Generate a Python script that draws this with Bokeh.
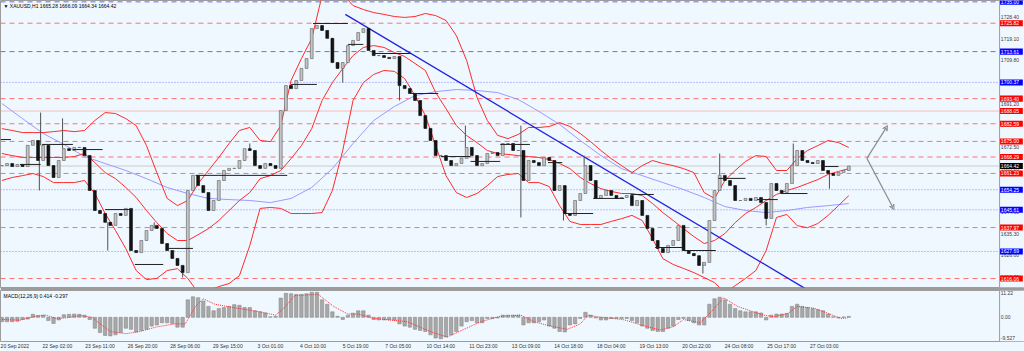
from bokeh.plotting import figure
from bokeh.layouts import column
from bokeh.models import Range1d, FixedTicker, Arrow, VeeHead, Span
from bokeh.core.properties import value
from bokeh.embed import file_html
from bokeh.resources import INLINE

# ---------------- data ----------------
BAR_STEP = 4  # one sample every 4 hourly bars
closes = [
    1664.6, 1665.5, 1664.2, 1665.1, 1664.2, 1673.3, 1675.4, 1666.8, 1673.3, 1664.6,
    1659.5, 1666.8, 1671.9, 1671.1, 1672.4, 1672.4, 1668.9, 1653.9, 1645.3, 1644.0,
    1640.2, 1638.9, 1644.0, 1643.2, 1646.2, 1628.1, 1627.2, 1632.4, 1636.7, 1638.9,
    1637.6, 1631.1, 1628.1, 1624.7, 1621.7, 1618.6, 1653.9, 1660.4, 1656.0, 1653.0,
    1645.3, 1649.6, 1658.2, 1662.5, 1663.4, 1663.4, 1666.8, 1671.9, 1671.1, 1664.6,
    1663.4, 1665.5, 1664.6, 1663.4, 1688.3, 1699.0, 1697.7, 1701.2, 1706.4, 1710.6,
    1723.5, 1724.8, 1722.7, 1719.3, 1708.9, 1706.4, 1708.9, 1716.2, 1718.4, 1721.8,
    1723.5, 1714.1, 1711.9, 1711.9, 1711.1, 1710.6, 1711.5, 1699.0, 1697.7, 1695.6,
    1692.6, 1686.1, 1680.6, 1675.4, 1668.9, 1668.9, 1666.8, 1664.6, 1665.5, 1667.7,
    1672.4, 1668.9, 1664.6, 1665.5, 1669.8, 1670.2, 1668.9, 1674.1, 1674.1, 1671.1,
    1671.1, 1658.2, 1666.8, 1665.9, 1664.6, 1668.1, 1666.8, 1653.9, 1656.0, 1644.0,
    1643.2, 1649.6, 1652.6, 1664.6, 1658.2, 1650.5, 1651.8, 1653.9, 1651.8, 1650.5,
    1650.9, 1651.8, 1647.4, 1649.6, 1643.2, 1637.6, 1632.4, 1629.0, 1627.2, 1630.3,
    1632.4, 1638.9, 1628.1, 1626.8, 1625.9, 1621.7, 1623.0, 1641.0, 1653.9, 1660.4,
    1658.2, 1656.0, 1649.6, 1649.6, 1650.5, 1649.6, 1650.9, 1648.7, 1641.9, 1656.9,
    1653.9, 1653.0, 1656.9, 1664.6, 1671.1, 1666.8, 1665.9, 1665.5, 1666.8, 1662.5,
    1661.2, 1660.4, 1661.6, 1662.5, 1664.42,
]

# wick extremes (bar index, price)
spike_bar = [29, 30, 47, 82, 118, 140, 192, 264, 308, 359, 402, 402, 435, 451, 543, 556, 592, 613, 641]
spike_price = [1653.9, 1687.4, 1684.9, 1628.1, 1640.2, 1616.5, 1674.1, 1700.3, 1692.6, 1681.8,
               1681.8, 1642.3, 1641.0, 1668.9, 1618.2, 1669.8, 1638.9, 1674.1, 1654.7]

# Bollinger bands, sampled every 8 bars
BB_STEP = 8
bb_upper = [
    1680.5, 1679.7, 1678.8, 1678.8, 1678.8, 1679.2, 1679.7, 1679.2, 1679.7, 1684.0,
    1687.4, 1687.0, 1684.8, 1681.8, 1673.2, 1661.6, 1650.5, 1647.4, 1649.6, 1656.9,
    1662.5, 1668.1, 1674.1, 1679.7, 1681.0, 1675.4, 1674.9, 1681.8, 1701.2, 1710.6,
    1719.2, 1737.7, 1740.7, 1738.2, 1733.4, 1731.7, 1730.4, 1729.6, 1728.7, 1728.3,
    1728.7, 1730.0, 1729.1, 1727.0, 1720.5, 1709.8, 1693.9, 1684.0, 1677.6, 1676.2,
    1678.0, 1681.0, 1681.0, 1681.4, 1683.1, 1681.4, 1678.4, 1674.9, 1671.1, 1667.6,
    1664.6, 1661.6, 1664.6, 1666.8, 1665.5, 1664.6, 1663.3, 1661.6, 1653.0, 1650.5,
    1658.2, 1662.5, 1666.4, 1668.9, 1668.5, 1662.5, 1662.5, 1667.6, 1671.1, 1673.2,
    1675.4, 1674.5, 1672.4,
]
bb_middle = [
    1669.8, 1668.9, 1668.1, 1668.1, 1668.1, 1668.1, 1668.1, 1668.5, 1669.8, 1665.9,
    1661.6, 1659.0, 1655.2, 1650.9, 1645.3, 1640.1, 1635.4, 1632.4, 1632.4, 1634.9,
    1637.5, 1641.0, 1645.3, 1649.6, 1653.0, 1659.0, 1660.3, 1662.5, 1667.6, 1673.2,
    1680.5, 1692.6, 1700.3, 1706.3, 1711.9, 1715.4, 1716.2, 1715.4, 1713.2, 1711.5,
    1708.5, 1705.5, 1696.0, 1689.1, 1681.8, 1677.5, 1674.5, 1671.1, 1669.8, 1669.4,
    1668.9, 1668.5, 1668.1, 1667.2, 1665.5, 1663.3, 1659.5, 1656.9, 1654.7, 1653.5,
    1652.6, 1652.6, 1651.7, 1648.3, 1644.4, 1641.0, 1637.5, 1634.1, 1631.1, 1632.4,
    1635.4, 1640.1, 1644.0, 1646.6, 1649.6, 1652.2, 1653.9, 1655.2, 1656.9, 1658.6,
    1660.8, 1662.1, 1663.3,
]
bb_lower = [
    1658.2, 1659.5, 1660.3, 1661.2, 1659.9, 1657.3, 1657.3, 1657.3, 1658.2, 1652.6,
    1644.0, 1636.7, 1628.9, 1619.5, 1615.6, 1616.1, 1619.5, 1620.3, 1616.1, 1610.0,
    1610.9, 1612.6, 1613.9, 1617.3, 1630.2, 1646.2, 1646.6, 1646.2, 1644.0, 1644.0,
    1644.0, 1644.4, 1653.9, 1671.1, 1692.6, 1700.3, 1703.8, 1705.5, 1705.1, 1702.0,
    1694.7, 1686.1, 1673.2, 1660.3, 1653.0, 1650.9, 1652.6, 1656.0, 1659.9, 1660.8,
    1661.2, 1657.3, 1657.3, 1655.6, 1647.4, 1640.6, 1639.3, 1639.3, 1639.3, 1640.6,
    1641.8, 1643.2, 1641.0, 1633.2, 1624.6, 1622.1, 1620.4, 1618.6, 1616.5, 1614.3,
    1610.0, 1613.0, 1616.1, 1619.5, 1628.1, 1642.3, 1643.6, 1638.8, 1637.9, 1639.7,
    1643.2, 1647.4, 1651.7,
]

# slow moving average, sampled every 16 bars
MA_STEP = 16
ma_slow = [
    1691.3, 1684.8, 1678.4, 1673.7, 1668.5, 1665.5, 1662.5, 1659.0, 1655.2, 1652.6,
    1650.5, 1650.0, 1649.6, 1648.7, 1650.5, 1655.2, 1663.3, 1674.1, 1684.0, 1690.0,
    1694.7, 1696.4, 1697.3, 1696.9, 1696.0, 1693.0, 1687.9, 1682.3, 1675.4, 1668.9,
    1663.3, 1660.3, 1657.3, 1654.3, 1650.9, 1647.0, 1645.3, 1644.4, 1645.3, 1646.6,
    1647.4, 1648.3,
]

# trend line (bar, price)
trend_bar = [266, 622]
trend_price = [1729.6, 1611.8]

# short horizontal segments (start bar, end bar, price)
seg_start = [-1, 31, 55, 14, 80, 103, 129, 150, 224, 241, 268, 288, 317, 340, 363, 386, 423, 435, 458, 487, 506, 528, 555, 585, 603, 636]
seg_end = [7, 55, 78, 30, 101, 125, 148, 221, 244, 268, 280, 317, 338, 363, 386, 409, 434, 458, 482, 505, 528, 553, 576, 601, 624, 648]
seg_price = [1675.8, 1673.7, 1671.5, 1665.1, 1645.7, 1622.1, 1629.0, 1660.4, 1699.5, 1725.7, 1716.7, 1712.8, 1695.6,
             1668.5, 1666.4, 1673.7, 1665.9, 1644.0, 1650.5, 1652.2, 1629.4, 1628.1, 1659.1, 1650.0, 1652.6, 1664.2]

# projected scenario arrows (bar, price)
arrow_start = (670, 1667.7)
arrow_up_end = (686, 1681.8)
arrow_down_end = (691, 1645.7)

# horizontal levels
level_price = [1735.00, 1725.82, 1713.61, 1700.37, 1693.40, 1688.05, 1682.59, 1675.00, 1668.29,
               1661.23, 1654.25, 1645.61, 1637.97, 1627.69, 1616.06]
level_kind = ["bdash", "rdash", "bdash", "bdot", "rdash", "rdot", "rdash", "rdash", "rdash",
              "rdash", "bdot", "bdot", "rdash", "bdot", "rdash"]
current_price = 1664.42

price_ticks = [1728.40, 1719.10, 1709.80, 1700.50, 1691.20, 1681.90, 1672.50, 1663.20,
               1653.90, 1644.60, 1635.30, 1626.00, 1616.70]

# MACD histogram (same 4-bar sampling) and signal line
macd_hist = [
    -2, -2, -2, -1.8, -1, -0.8, 1.4, 0.8, 1.0, -1.5,
    -2.8, -1.2, 1.2, 1.4, 1.5, 1.4, 1.0, -1, -5, -7,
    -8.3, -8.5, -8, -7, -5, -5.5, -6.7, -6, -5.5, -4,
    -3.5, -2.5, -2.5, -2.8, -4.5, -4.5, 8, 9.4, 9, 7.5,
    5, 3, 4, 4.5, 5, 5.8, 5.5, 4.5, 4.5, 3,
    2.5, 2, 0.3, 0.5, 8.8, 11, 10.8, 10.5, 10.5, 10.8,
    11.5, 11.5, 8, 6, 2.5, 0.5, -1, 1, 1.9, 3,
    3, 1, -1, -1.2, -1.2, -1.2, -1.3, -3, -4, -4.5,
    -5.5, -6, -6.5, -8, -9.5, -9.8, -9, -8, -6.5, -4,
    -2, -1.5, -2.5, -2.5, -0.5, -0.5, -0.3, 1, 1, 1,
    1, -3.5, -2.5, -2.5, -2, -1.2, -4, -5, -6.5, -6.7,
    -3.5, -3, -0.5, 2.3, 1, -0.3, -1.2, -1.2, -0.5, -0.5,
    -0.5, -0.5, -1.5, -2.5, -4, -5, -6, -6.5, -6.5, -5,
    -4, -1, -0.5, -1.5, -2.5, -3.5, -3.5, 6, 8.5, 9.2,
    8, 6, 4, 3, 2.5, 2.5, 2.5, 2, -1.2, 1,
    1.5, 1.5, 1.8, 5, 6, 5, 4.5, 4, 3.5, 3,
    1.5, 0.3, -0.3, 0.2, 0.414,
]
sig_bar = [0, 14, 26, 34, 42, 49, 61, 70, 76, 84, 96, 107, 119, 134, 142, 150, 156, 165, 179, 200,
           212, 218, 227, 245, 257, 268, 276, 288, 314, 334, 345, 358, 371, 386, 402, 412, 425, 438,
           448, 454, 464, 481, 500, 510, 520, 528, 541, 551, 559, 570, 582, 590, 598, 609, 616, 629,
           640, 650, 655]
sig_val = [-1, -1.3, 0.5, 1, -0.5, -0.3, 0.8, 0, -3, -6.5, -7.5, -6.5, -4.5, -3, -3, 5, 8.5, 6, 4.5, 2.5,
           1, 4, 10, 10.5, 5, 1.5, 1.5, -0.5, -2, -7, -9, -5.5, -2, 0.5, 1, -2, -4, -5.5,
           -3, 1, 0, -1, -4.3, -5.8, -4.3, -1, -2.5, 3.5, 9, 5, 2.5, 1, 0.3, 1.8, 5, 4.2,
           1.8, -0.5, -0.297]

date_labels = ["20 Sep 2022", "22 Sep 02:00", "23 Sep 11:00", "26 Sep 20:00", "28 Sep 06:00",
               "29 Sep 15:00", "3 Oct 01:00", "4 Oct 10:00", "5 Oct 19:00", "7 Oct 05:00",
               "10 Oct 14:00", "11 Oct 23:00", "13 Oct 09:00", "14 Oct 18:00", "18 Oct 04:00",
               "19 Oct 13:00", "20 Oct 22:00", "24 Oct 08:00", "25 Oct 17:00", "27 Oct 03:00"]
BARS_PER_LABEL = 33

macd_ticks = [11.22, 0.0, -9.527]
macd_tick_text = ["11.22", "0.00", "-9.527"]

# ---------------- styling ----------------
BG = "#f0f8ff"
FONT = "Liberation Sans"
FS = "5px"
X0 = -1.08      # left edge of chart
XR = 772.8      # right edge of price area (price scale starts here)
XE = 792.1      # right edge of window
LBL_X = 773.8   # where scale texts start
BOX_R = 790.8   # right end of coloured price boxes
Y0, Y1 = 1612.2, 1735.58
BOX_H = 1.3     # half-height of a price box, in price units
M0, M1 = -11.07, 12.29

bars = [i * BAR_STEP for i in range(len(closes))]
opens = [closes[0]] + closes[:-1]
tops = [max(o, c) for o, c in zip(opens, closes)]
bots = [min(o, c) for o, c in zip(opens, closes)]
fills = ["#c4c4c4" if c >= o else "#141414" for o, c in zip(opens, closes)]
lines = ["#5a5a5a" if c >= o else "#000000" for o, c in zip(opens, closes)]

x_range = Range1d(X0, XE)
p = figure(width=1024, height=290, x_range=x_range, y_range=Range1d(Y0, Y1),
           output_backend="svg", toolbar_location=None, x_axis_location=None,
           y_axis_location=None, min_border_left=0, min_border_top=0,
           min_border_bottom=3, min_border_right=0,
           background_fill_color=BG, border_fill_color="#9c9c9c")
p.grid.visible = False
p.outline_line_color = "#9c9c9c"

styles = {
    "rdash": dict(line_color="#ff7070", line_dash="5 4", line_width=1),
    "bdash": dict(line_color="#6a6aff", line_dash="5 4", line_width=1),
    "bdot": dict(line_color="#7070ff", line_alpha=0.85, line_dash="1 2", line_width=1),
    "rdot": dict(line_color="#ff8080", line_dash="1 1", line_width=1),
}
for lp, lk in zip(level_price, level_kind):
    p.segment(x0=[X0], x1=[XR], y0=[lp], y1=[lp], **styles[lk])
p.segment(x0=[X0], x1=[XR], y0=[current_price], y1=[current_price], line_color="#cccccc", line_width=1)

# indicators
bb_bars = [i * BB_STEP for i in range(len(bb_upper))]
ma_bars = [i * MA_STEP for i in range(len(ma_slow))]
p.line(ma_bars, ma_slow, line_color="#9a9aff", line_width=1)
for band in (bb_upper, bb_middle, bb_lower):
    p.line(bb_bars, band, line_color="#ff2a2a", line_width=1)
p.line(trend_bar, trend_price, line_color="#2222dd", line_width=1.3)

# candles
spike_close = [closes[min(len(closes) - 1, round(b / BAR_STEP))] for b in spike_bar]
p.segment(x0=spike_bar, y0=spike_price, x1=spike_bar, y1=spike_close, line_color="#505050", line_width=1)
p.vbar(x=bars, width=2.2, top=tops, bottom=bots, fill_color=fills, line_color=lines, line_width=0.6)

p.segment(x0=seg_start, y0=seg_price, x1=seg_end, y1=seg_price, line_color="#202020", line_width=1)

for end in (arrow_up_end, arrow_down_end):
    p.add_layout(Arrow(end=VeeHead(size=5, line_color="#8c8c8c", line_width=1, fill_color=None),
                       x_start=arrow_start[0], y_start=arrow_start[1], x_end=end[0], y_end=end[1],
                       line_color="#8c8c8c", line_width=1.2))

# price scale area
p.quad(left=[XR], right=[XE], bottom=[Y0], top=[Y1], fill_color=BG, line_color=None)
p.add_layout(Span(location=XR, dimension="height", line_color="#9c9c9c", line_width=1))
p.text(x=[LBL_X] * len(price_ticks), y=price_ticks, text=[f"{t:.2f}" for t in price_ticks],
       text_font=value(FONT), text_font_size=FS, text_color="#3a3a3a",
       text_baseline="middle", text_align="left")

box_color = {"rdash": "#ff0000", "rdot": "#ff0000", "bdash": "#0000ff", "bdot": "#0000ff"}
bx_price = level_price + [current_price]
bx_color = [box_color[k] for k in level_kind] + ["#000000"]
p.quad(left=[XR + 0.3] * len(bx_price), right=[BOX_R] * len(bx_price),
       bottom=[v - BOX_H for v in bx_price], top=[v + BOX_H for v in bx_price],
       fill_color=bx_color, line_color=None)
p.text(x=[LBL_X] * len(bx_price), y=bx_price, text=[f"{v:.2f}" for v in bx_price],
       text_font=value(FONT), text_font_size=FS, text_color="#ffffff",
       text_baseline="middle", text_align="left")

p.text(x=[X0], y=[Y1], x_offset=3, y_offset=2,
       text=["\u25BC XAUUSD,H1  1665.28 1666.09 1664.34 1664.42"],
       text_font=value(FONT), text_font_size=FS, text_color="#000000", text_baseline="top")

# ---------------- MACD ----------------
m = figure(width=1024, height=61, x_range=x_range, y_range=Range1d(M0, M1),
           output_backend="svg", toolbar_location=None, y_axis_location=None,
           min_border_left=0, min_border_top=0, min_border_bottom=10, min_border_right=0,
           background_fill_color=BG, border_fill_color=BG)
m.grid.visible = False
m.outline_line_color = "#9c9c9c"
m.vbar(x=bars, width=2.6, top=macd_hist, bottom=0, fill_color="#a8a8a8", line_color="#8c8c8c", line_width=0.6)
m.line(sig_bar, sig_val, line_color="#ff3030", line_dash="1 1", line_width=1)

m.quad(left=[XR], right=[XE], bottom=[M0], top=[M1], fill_color=BG, line_color=None)
m.add_layout(Span(location=XR, dimension="height", line_color="#9c9c9c", line_width=1))
m.text(x=[LBL_X] * len(macd_ticks), y=macd_ticks, text=macd_tick_text,
       text_font=value(FONT), text_font_size=FS, text_color="#3a3a3a",
       text_baseline="middle", text_align="left")

mx = m.xaxis[0]
date_ticks = [BARS_PER_LABEL * k + 10 for k in range(len(date_labels))]
mx.ticker = FixedTicker(ticks=date_ticks)
mx.major_label_overrides = {t: s for t, s in zip(date_ticks, date_labels)}
mx.major_label_text_font = FONT
mx.major_label_text_font_size = FS
mx.major_label_text_color = "#303030"
mx.major_label_standoff = 1
mx.major_tick_out = 0
mx.major_tick_in = 0
mx.minor_tick_line_color = None
mx.axis_line_color = None

m.text(x=[X0], y=[M1], x_offset=3, y_offset=2, text=["MACD(12,26,9) 0.414 -0.297"],
       text_font=value(FONT), text_font_size=FS, text_color="#000000", text_baseline="top")

layout = column(p, m, spacing=0)
open("out.html", "w").write(file_html(layout, INLINE))
